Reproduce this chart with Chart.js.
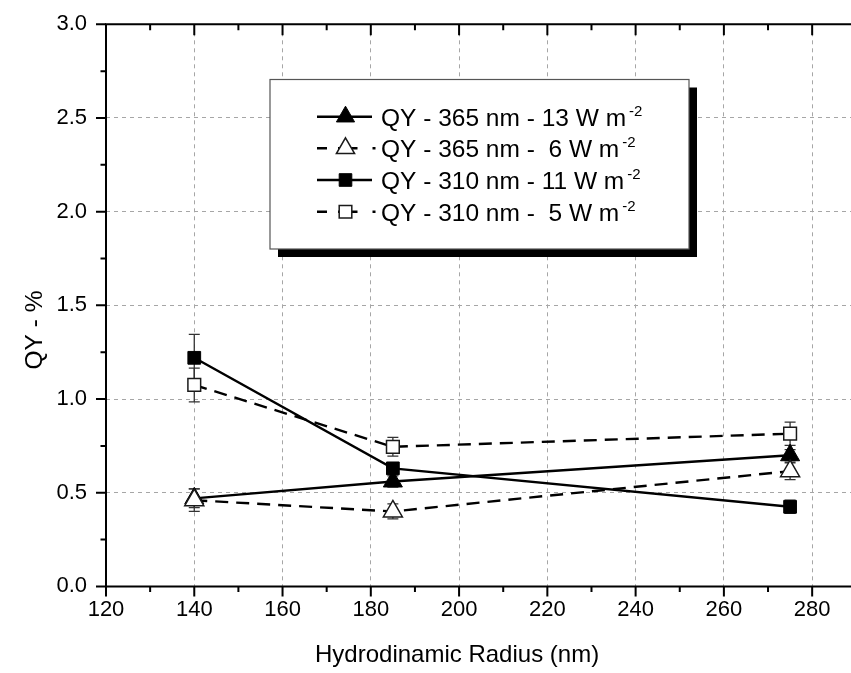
<!DOCTYPE html>
<html>
<head>
<meta charset="utf-8">
<script src="https://cdn.jsdelivr.net/npm/chart.js@4.4.1/dist/chart.umd.min.js"></script>
<style>
  html, body { margin: 0; padding: 0; background: #fff; }
  #wrap { width: 851px; height: 673px; }
</style>
</head>
<body>
<div id="wrap"><canvas id="c" width="851" height="673"></canvas></div>
<script>
// Hydrodynamic radius of the particles (nm)
const radius = [140, 185, 275];

// Quantum yield (%) and its uncertainty for each irradiation condition
const qy365High = [0.47, 0.56, 0.70];
const qy365HighErr = [0.05, 0.03, 0.03];
const qy365Low = [0.46, 0.40, 0.615];
const qy365LowErr = [0.06, 0.04, 0.045];
const qy310High = [1.22, 0.63, 0.425];
const qy310HighErr = [0.125, 0.03, 0.035];
const qy310Low = [1.075, 0.745, 0.815];
const qy310LowErr = [0.09, 0.05, 0.062];

const seriesLabels = [
  'QY - 365 nm - 13 W m',
  'QY - 365 nm -  6 W m',
  'QY - 310 nm - 11 W m',
  'QY - 310 nm -  5 W m'
];
const unitExponent = '-2';
const xTitle = 'Hydrodinamic Radius (nm)';
const yTitle = 'QY - %';

const xTickValues = [120, 140, 160, 180, 200, 220, 240, 260, 280];
const xMinorValues = [130, 150, 170, 190, 210, 230, 250, 270];
const yTickValues = [0, 0.5, 1.0, 1.5, 2.0, 2.5, 3.0];
const yMinorValues = [0.25, 0.75, 1.25, 1.75, 2.25, 2.75];

const FONT = '"Liberation Sans", Arial, Helvetica, sans-serif';
const DASH = [13, 8];

function pts(values) {
  return radius.map((r, i) => ({ x: r, y: values[i] }));
}

function series(label, values, errs, style, filled, dashed, order) {
  return {
    label: label,
    data: pts(values),
    errorBars: errs,
    borderColor: '#000',
    borderWidth: 2.4,
    borderDash: dashed ? DASH : [],
    pointStyle: style,
    pointRadius: style === 'triangle' ? 11 : 9,
    pointBackgroundColor: filled ? '#000' : '#fff',
    pointBorderColor: filled ? '#000' : '#1a1a1a',
    pointBorderWidth: filled ? 1 : 1.5,
    fill: false,
    tension: 0,
    order: order
  };
}

// the plot frame is fixed; label overhang must not push it inward
function noOverhang(scale) {
  scale.paddingTop = 0;
  scale.paddingBottom = 0;
  scale.paddingLeft = 0;
  scale.paddingRight = 0;
}

// vertical error bars with caps, painted underneath the markers
const errorBarPlugin = {
  id: 'errorBars',
  beforeDatasetsDraw(chart) {
    const ctx = chart.ctx;
    const xs = chart.scales.x, ys = chart.scales.y;
    ctx.save();
    ctx.strokeStyle = '#333';
    ctx.lineWidth = 1.3;
    ctx.setLineDash([]);
    chart.data.datasets.forEach(ds => {
      if (!ds.errorBars) return;
      ds.data.forEach((p, i) => {
        const e = ds.errorBars[i];
        const x = xs.getPixelForValue(p.x);
        const y1 = ys.getPixelForValue(p.y + e);
        const y2 = ys.getPixelForValue(p.y - e);
        ctx.beginPath();
        ctx.moveTo(x, y1); ctx.lineTo(x, y2);
        ctx.moveTo(x - 5.5, y1); ctx.lineTo(x + 5.5, y1);
        ctx.moveTo(x - 5.5, y2); ctx.lineTo(x + 5.5, y2);
        ctx.stroke();
      });
    });
    ctx.restore();
  }
};

// axis lines, major/minor tick marks (bottom/left outward, top inward) and axis titles
const framePlugin = {
  id: 'frame',
  afterDraw(chart) {
    const ctx = chart.ctx;
    const a = chart.chartArea;
    const xs = chart.scales.x, ys = chart.scales.y;
    ctx.save();
    ctx.strokeStyle = '#000';
    ctx.setLineDash([]);
    ctx.lineWidth = 2;
    ctx.beginPath();
    ctx.moveTo(a.left, a.top); ctx.lineTo(chart.width, a.top);
    ctx.moveTo(a.left, a.bottom); ctx.lineTo(chart.width, a.bottom);
    ctx.moveTo(a.left, a.top - 1); ctx.lineTo(a.left, a.bottom + 1);
    ctx.stroke();

    ctx.beginPath();
    xTickValues.forEach(v => {
      const x = xs.getPixelForValue(v);
      ctx.moveTo(x, a.bottom); ctx.lineTo(x, a.bottom + 10);
      ctx.moveTo(x, a.top); ctx.lineTo(x, a.top + 11);
    });
    xMinorValues.forEach(v => {
      const x = xs.getPixelForValue(v);
      ctx.moveTo(x, a.bottom); ctx.lineTo(x, a.bottom + 5.5);
      ctx.moveTo(x, a.top); ctx.lineTo(x, a.top + 6);
    });
    yTickValues.forEach(v => {
      const y = ys.getPixelForValue(v);
      ctx.moveTo(a.left, y); ctx.lineTo(a.left - 10, y);
    });
    yMinorValues.forEach(v => {
      const y = ys.getPixelForValue(v);
      ctx.moveTo(a.left, y); ctx.lineTo(a.left - 5.5, y);
    });
    ctx.stroke();

    // axis titles: x centred under the labelled tick range
    ctx.fillStyle = '#000';
    ctx.textAlign = 'center';
    ctx.textBaseline = 'middle';
    ctx.font = '24px ' + FONT;
    const xMid = (xs.getPixelForValue(xTickValues[0]) + xs.getPixelForValue(xTickValues[xTickValues.length - 1])) / 2;
    ctx.fillText(xTitle, xMid - 2, 655);
    ctx.translate(35, 330);
    ctx.rotate(-Math.PI / 2);
    ctx.font = '24.5px ' + FONT;
    ctx.fillText(yTitle, 0, 0);
    ctx.restore();
  }
};

// boxed legend with drop shadow inside the plot
const boxLegendPlugin = {
  id: 'boxLegend',
  afterDraw(chart) {
    const ctx = chart.ctx;
    const box = { x: 270, y: 79.5, w: 419, h: 169.5 };
    const shadow = 8;
    ctx.save();
    ctx.setLineDash([]);
    ctx.fillStyle = '#000';
    ctx.fillRect(box.x + shadow, box.y + shadow, box.w, box.h);
    ctx.fillStyle = '#fff';
    ctx.fillRect(box.x, box.y, box.w, box.h);
    ctx.strokeStyle = '#555';
    ctx.lineWidth = 1.2;
    ctx.strokeRect(box.x, box.y, box.w, box.h);

    const rowY = [116.7, 148.3, 180, 211.7];
    const markX = 345.5, textX = 381;
    chart.data.datasets.forEach((ds, i) => {
      const y = rowY[i];
      const dashed = ds.borderDash && ds.borderDash.length;
      // line sample: continuous for solid series, dash / marker / dot for dashed ones
      const segs = dashed ? [[317, 327], [338, 357.5], [372.5, 375.5]] : [[317, 372]];
      ctx.strokeStyle = ds.borderColor;
      ctx.lineWidth = ds.borderWidth;
      ctx.beginPath();
      segs.forEach(s => { ctx.moveTo(s[0], y); ctx.lineTo(s[1], y); });
      ctx.stroke();

      ctx.fillStyle = ds.pointBackgroundColor;
      ctx.strokeStyle = ds.pointBorderColor;
      ctx.lineWidth = ds.pointBorderWidth;
      ctx.beginPath();
      if (ds.pointStyle === 'triangle') {
        const r = 10.5;
        ctx.moveTo(markX, y - r);
        ctx.lineTo(markX + r * Math.sin(2 * Math.PI / 3), y + r / 2);
        ctx.lineTo(markX - r * Math.sin(2 * Math.PI / 3), y + r / 2);
        ctx.closePath();
      } else {
        const s = 6.3;
        ctx.rect(markX - s, y - s, 2 * s, 2 * s);
      }
      ctx.fill();
      ctx.stroke();

      ctx.fillStyle = '#000';
      ctx.textBaseline = 'alphabetic';
      ctx.textAlign = 'left';
      ctx.font = '24.5px ' + FONT;
      const base = y + 9;
      ctx.fillText(ds.label, textX, base);
      const w = ctx.measureText(ds.label).width;
      ctx.font = '15px ' + FONT;
      ctx.fillText(unitExponent, textX + w + 3, base - 10);
    });
    ctx.restore();
  }
};

const chart = new Chart(document.getElementById('c'), {
  type: 'line',
  data: {
    datasets: [
      series(seriesLabels[0], qy365High, qy365HighErr, 'triangle', true, false, 2),
      series(seriesLabels[1], qy365Low, qy365LowErr, 'triangle', false, true, 1),
      series(seriesLabels[2], qy310High, qy310HighErr, 'rect', true, false, 2),
      series(seriesLabels[3], qy310Low, qy310LowErr, 'rect', false, true, 1)
    ]
  },
  plugins: [errorBarPlugin, framePlugin, boxLegendPlugin],
  options: {
    responsive: false,
    animation: false,
    devicePixelRatio: 1,
    layout: { autoPadding: false, padding: { top: 24.3, right: 0, left: 0, bottom: 0 } },
    plugins: {
      legend: { display: false },
      tooltip: { enabled: false }
    },
    scales: {
      x: {
        type: 'linear',
        min: 120,
        max: 288.8,
        afterFit(scale) { scale.height = 86.6; noOverhang(scale); },
        afterBuildTicks(scale) { scale.ticks = xTickValues.map(v => ({ value: v })); },
        ticks: {
          stepSize: 20,
          includeBounds: false,
          font: { family: FONT, size: 22 },
          color: '#000',
          padding: 10,
          maxRotation: 0,
          autoSkip: false
        },
        grid: {
          drawTicks: false,
          lineWidth: 1,
          color: c => (c.tick && c.tick.value === 120) ? 'rgba(0,0,0,0)' : '#a6a6a6'
        },
        border: { display: false, dash: [4, 4] },
        title: { display: false }
      },
      y: {
        min: 0,
        max: 3,
        afterFit(scale) { scale.width = 106; noOverhang(scale); },
        afterBuildTicks(scale) { scale.ticks = yTickValues.map(v => ({ value: v })); },
        ticks: {
          stepSize: 0.5,
          font: { family: FONT, size: 22 },
          color: '#000',
          padding: 19,
          callback: v => Number(v).toFixed(1)
        },
        grid: {
          drawTicks: false,
          lineWidth: 1,
          color: c => (c.tick && (c.tick.value === 0 || c.tick.value === 3)) ? 'rgba(0,0,0,0)' : '#a6a6a6'
        },
        border: { display: false, dash: [4, 4] },
        title: { display: false }
      }
    }
  }
});
</script>
</body>
</html>
